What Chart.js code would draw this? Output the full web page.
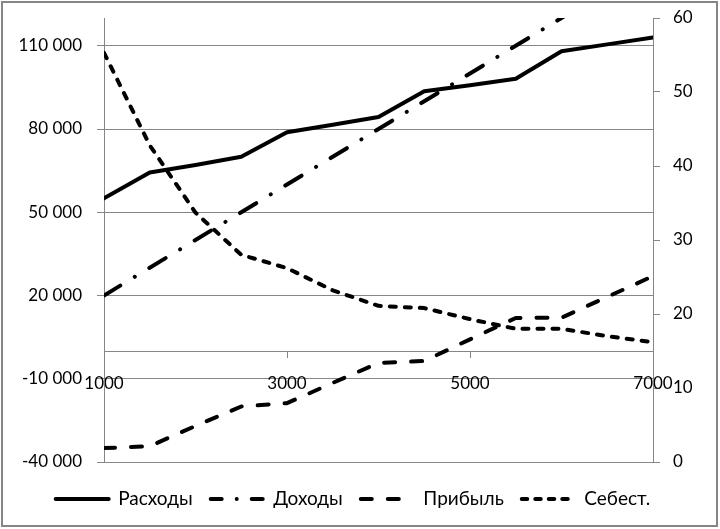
<!DOCTYPE html>
<html>
<head>
<meta charset="utf-8">
<script src="https://cdn.jsdelivr.net/npm/chart.js@4"></script>
<style>
  html, body { margin: 0; padding: 0; background: #fff; }
  canvas { display: block; }
</style>
</head>
<body>
<canvas id="c" width="720" height="529"></canvas>
<script>
// ---- data ----
const quantities = [1000, 1500, 2000, 2500, 3000, 3500, 4000, 4500, 5000, 5500, 6000, 6500, 7000];
const expenses   = [55000, 64300, 67000, 70000, 78800, 81500, 84300, 93600, 95800, 98100, 108000, 110500, 113000];
const revenue    = [20000, 30000, 40000, 50000, 60000, 70000, 80000, 90000, 100000, 110000, 120000, 130000, 140000];
const profit     = [-35000, -34300, -27000, -20000, -18800, -11500, -4300, -3600, 4200, 11900, 12000, 19500, 27000];
const unitCost   = [55.3, 42.8, 33.7, 28.0, 26.2, 23.2, 21.1, 20.8, 19.3, 18.0, 18.0, 17.0, 16.2];
const seriesNames = ['Расходы', 'Доходы', 'Прибыль', 'Себест.'];

const leftTicks  = [-40000, -10000, 20000, 50000, 80000, 110000];
const rightTicks = [0, 10, 20, 30, 40, 50, 60];
const xTicks     = [1000, 3000, 5000, 7000];

const pts = arr => quantities.map((q, i) => ({ x: q, y: arr[i] }));
const fmtThousands = v => {
  const s = Math.abs(v).toString().replace(/\B(?=(\d{3})+(?!\d))/g, '\u00a0');
  return (v < 0 ? '-' : '') + s;
};
const setTicks = list => scale => { scale.ticks = list.map(v => ({ value: v })); };
const noVPad = w => s => { s.width = w; s.paddingTop = 0; s.paddingBottom = 0; };

const GRID = '#868686';
const LW = 4;

Chart.defaults.font.family = 'Lato, "Open Sans", sans-serif';
Chart.defaults.color = '#000';

const frame = {
  id: 'frame',
  afterDraw(chart) {
    const ctx = chart.ctx;
    ctx.save();
    ctx.strokeStyle = GRID;
    ctx.lineWidth = 2;
    ctx.strokeRect(2, 2, 715, 524);
    ctx.restore();
  }
};

const lineBase = {
  borderColor: '#000',
  borderWidth: LW,
  pointRadius: 0,
  pointHoverRadius: 0,
  fill: false,
  tension: 0,
  borderCapStyle: 'round',
  borderJoinStyle: 'round',
  clip: 0
};

new Chart(document.getElementById('c'), {
  type: 'line',
  data: {
    datasets: [
      Object.assign({}, lineBase, { label: seriesNames[0], data: pts(expenses), yAxisID: 'y', borderDash: [], legendDash: [] }),
      Object.assign({}, lineBase, { label: seriesNames[1], data: pts(revenue), yAxisID: 'y', borderDash: [19, 17, 0.01, 17], legendDash: [11, 15, 0.01, 15] }),
      Object.assign({}, lineBase, { label: seriesNames[2], data: pts(profit), yAxisID: 'y', borderDash: [11, 16], legendDash: [11, 16] }),
      Object.assign({}, lineBase, { label: seriesNames[3], data: pts(unitCost), yAxisID: 'y1', borderDash: [6, 9], legendDash: [5.5, 8] })
    ]
  },
  options: {
    responsive: false,
    animation: false,
    devicePixelRatio: 1,
    layout: { padding: { top: 18, bottom: 10.5, left: 0, right: 14 } },
    plugins: {
      tooltip: { enabled: false },
      legend: {
        position: 'bottom',
        align: 'center',
        title: { display: true, text: ' ', font: { size: 1 }, padding: { top: 4, bottom: 4.3 } },
        labels: {
          usePointStyle: true,
          pointStyleWidth: 53,
          padding: 18,
          font: { size: 19 },
          color: '#000',
          generateLabels: chart => chart.data.datasets.map((ds, i) => ({
            text: ds.label,
            fillStyle: 'rgba(0,0,0,0)',
            strokeStyle: '#000',
            lineWidth: LW,
            lineDash: ds.legendDash,
            lineCap: 'round',
            pointStyle: 'line',
            fontColor: '#000',
            hidden: false,
            datasetIndex: i
          }))
        }
      }
    },
    scales: {
      x: {
        type: 'linear',
        axis: 'x',
        position: { y: 0 },
        min: 1000,
        max: 7000,
        afterBuildTicks: setTicks(xTicks),
        grid: { drawOnChartArea: false, drawTicks: true, tickLength: 6, color: GRID, lineWidth: 1 },
        border: { display: true, color: GRID, width: 1 },
        ticks: { padding: 16, maxRotation: 0, autoSkip: false, font: { size: 17 }, color: '#000', callback: v => String(v) }
      },
      y: {
        type: 'linear',
        axis: 'y',
        position: 'left',
        min: -40000,
        max: 120000,
        afterBuildTicks: setTicks(leftTicks),
        afterFit: noVPad(104),
        grid: { drawOnChartArea: true, drawTicks: true, tickLength: 7, color: GRID, lineWidth: 1 },
        border: { display: true, color: GRID, width: 1 },
        ticks: { padding: 15, font: { size: 17 }, color: '#000', callback: v => fmtThousands(v) }
      },
      y1: {
        type: 'linear',
        axis: 'y',
        position: 'right',
        min: 0,
        max: 60,
        afterBuildTicks: setTicks(rightTicks),
        afterFit: noVPad(53),
        grid: { drawOnChartArea: false, drawTicks: true, tickLength: 7, color: GRID, lineWidth: 1 },
        border: { display: true, color: GRID, width: 1 },
        ticks: { padding: 13, font: { size: 17 }, color: '#000', callback: v => String(v) }
      }
    }
  },
  plugins: [frame]
});
</script>
</body>
</html>
